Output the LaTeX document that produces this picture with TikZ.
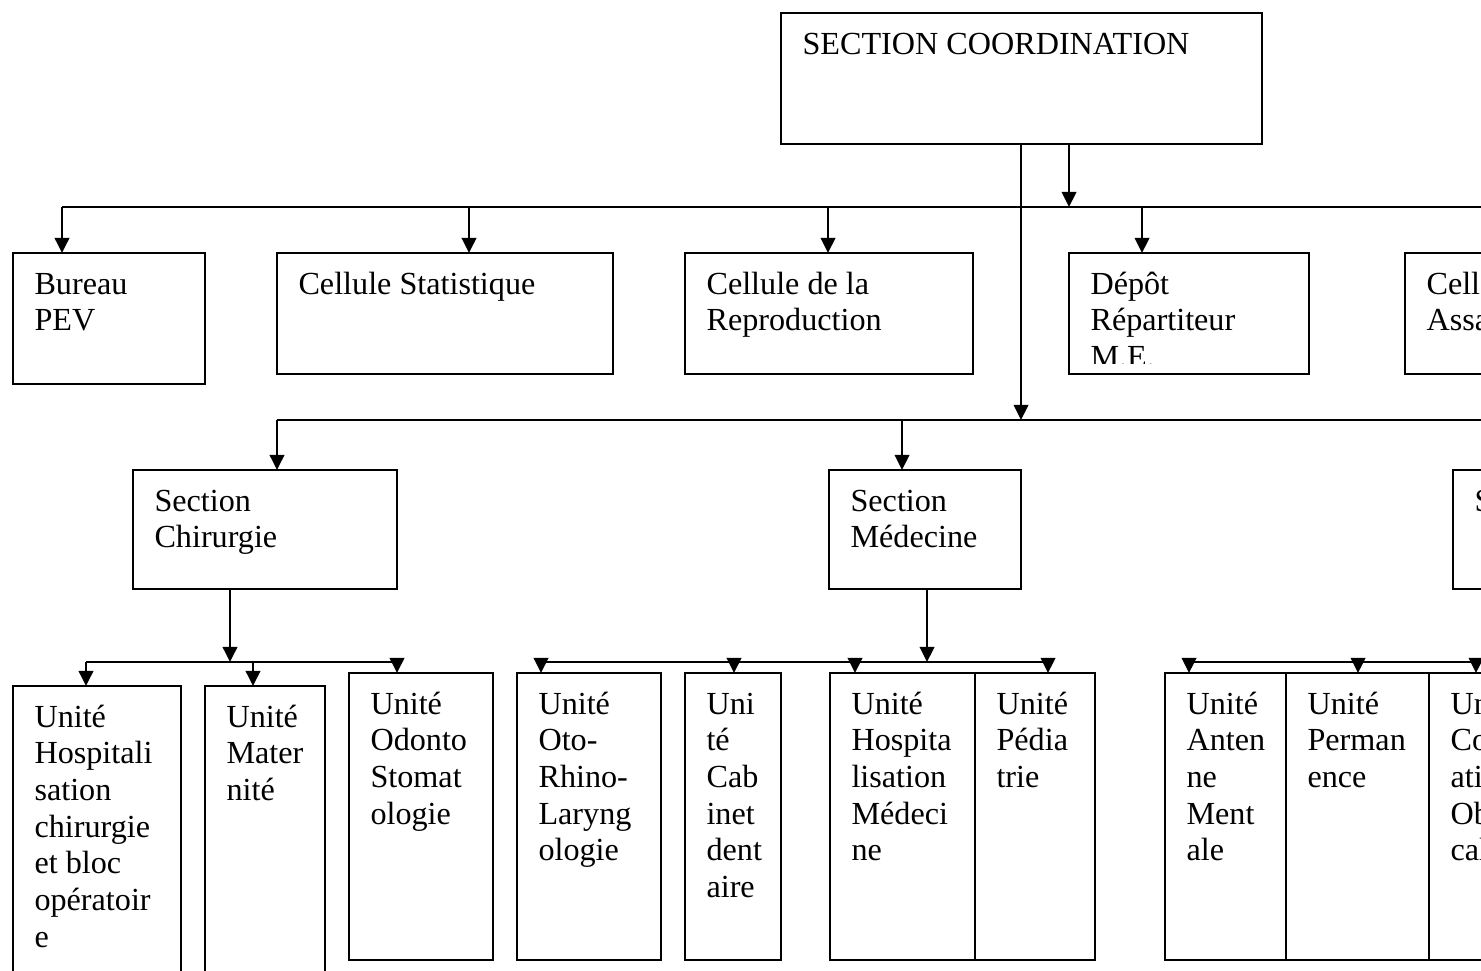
\documentclass[tikz,border=0pt]{standalone}
\usepackage{fontspec}
\setmainfont{Liberation Serif}
\usetikzlibrary{arrows.meta}
\def\px{0.373pt}
\tikzset{
  boxnode/.style={draw, line width=0.75pt, anchor=north west, inner sep=0pt, outer sep=0pt},
  lbl/.style={anchor=base west, align=flush left, text width=200pt, inner sep=0pt, font=\fontsize{12}{13.7}\selectfont},
  conn/.style={line width=0.75pt},
  arr/.style={conn, -{Triangle[length=5.6pt,width=5.4pt]}}
}
\begin{document}
\begin{tikzpicture}[x=\px, y=-\px]
\def\orgbox#1#2#3#4#5#6{%
  \node[boxnode, minimum width={(#4-#2)*\px}, minimum height={(#5-#3)*\px}] (#1) at (#2,#3) {};
  \node[lbl] (#1-t) at ([shift={(21,41)}]#1.north west) {#6};}
\useasboundingbox (0,0) rectangle (1481,970);
\clip (0,0) rectangle (1481,970);
% direction
\orgbox{coord}{781}{13}{1262}{144}{SECTION COORDINATION}
% cellules et bureaux
\orgbox{bureau}{13}{253}{205}{384}{Bureau\\PEV}
\orgbox{stat}{277}{253}{613}{374}{Cellule Statistique}
\orgbox{repro}{685}{253}{973}{374}{Cellule de la\\Reproduction}
\orgbox{depot}{1069}{253}{1309}{374}{}
\begin{scope}% texte coupe par le cadre
  \clip (depot.north west) rectangle ([shift={(0,-11)}]depot.south east);
  \node[lbl] (depot-txt) at ([shift={(21,41)}]depot.north west) {Dépôt\\Répartiteur\\M.E.};
\end{scope}
\orgbox{assain}{1405}{253}{1600}{374}{Cell\\Assa}
% sections
\orgbox{chir}{133}{470}{397}{589}{Section\\Chirurgie}
\orgbox{med}{829}{470}{1021}{589}{Section\\Médecine}
\orgbox{gyn}{1453}{470}{1650}{589}{S}
% unites
\orgbox{hospchir}{13}{686}{181}{1000}{Unité\\Hospitali\\sation\\chirurgie\\et bloc\\opératoir\\e}
\orgbox{mater}{205}{686}{325}{1000}{Unité\\Mater\\nité}
\orgbox{odonto}{349}{673}{493}{960}{Unité\\Odonto\\Stomat\\ologie}
\orgbox{orl}{517}{673}{661}{960}{Unité\\Oto-\\Rhino-\\Laryng\\ologie}
\orgbox{cab}{685}{673}{781}{960}{Uni\\té\\Cab\\inet\\dent\\aire}
\orgbox{hospmed}{830}{673}{975}{960}{Unité\\Hospita\\lisation\\Médeci\\ne}
\orgbox{pedia}{975}{673}{1095}{960}{Unité\\Pédia\\trie}
\orgbox{antenne}{1165}{673}{1286}{960}{Unité\\Anten\\ne\\Ment\\ale}
\orgbox{perm}{1286}{673}{1429}{960}{Unité\\Perman\\ence}
\orgbox{cons}{1429}{673}{1600}{960}{Un\\Co\\ati\\Ob\\cal}
% liaisons
\coordinate (jA) at (1069,207);
\coordinate (jB) at (1021,420);
\coordinate (jC) at (230,662);
\coordinate (jM) at (927,662);
\draw[arr] (coord.south -| jA) -- (jA);
\draw[arr] (coord.south -| jB) -- (jB);
\draw[arr] (chir.south -| jC) -- (jC);
\draw[arr] (med.south -| jM) -- (jM);
\foreach \x/\n in {62/bureau,469/stat,828/repro,1142/depot}{
  \coordinate (d-\n) at (\x,207);
  \draw[arr] (d-\n) -- (d-\n |- \n.north);}
\foreach \x/\n in {277/chir,902/med}{
  \coordinate (d-\n) at (\x,420);
  \draw[arr] (d-\n) -- (d-\n |- \n.north);}
\foreach \x/\n in {86/hospchir,253/mater,397/odonto,541/orl,734/cab,855/hospmed,1048/pedia,1189/antenne,1358/perm,1476/cons}{
  \coordinate (d-\n) at (\x,662);
  \draw[arr] (d-\n) -- (d-\n |- \n.north);}
\draw[conn] (d-bureau) -- ++(1450,0);
\draw[conn] (d-chir) -- ++(1230,0);
\draw[conn] (d-hospchir) -- (d-odonto);
\draw[conn] (d-orl) -- (d-pedia);
\draw[conn] (d-antenne) -- ++(320,0);
\end{tikzpicture}
\end{document}
